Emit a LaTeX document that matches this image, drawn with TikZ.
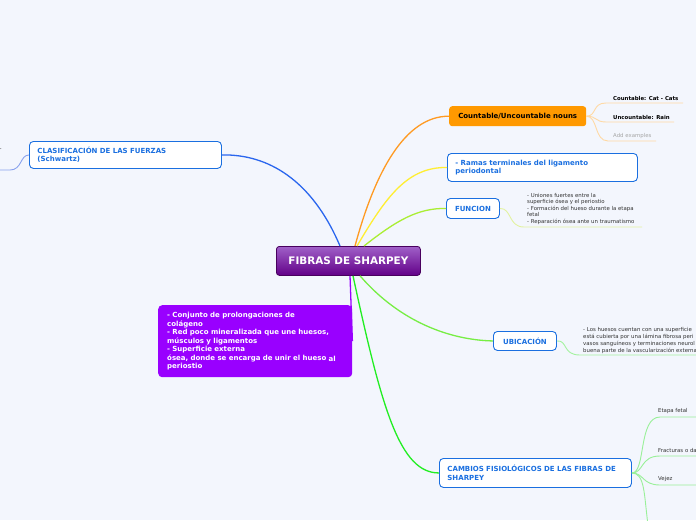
\documentclass[tikz,border=0pt]{standalone}
\usepackage{fontspec}
\setmainfont{DejaVu Sans}
\definecolor{bg}{HTML}{F3F6FD}
\definecolor{boxblue}{HTML}{1A6FE0}
\definecolor{ctop}{HTML}{A060C8}
\definecolor{cbot}{HTML}{620088}
\definecolor{cdark}{HTML}{48005E}
\definecolor{purp}{HTML}{9900FF}
\definecolor{orng}{HTML}{FF9900}
\definecolor{cblue}{HTML}{2A66EE}
\definecolor{corange}{HTML}{FF9A22}
\definecolor{cyellow}{HTML}{FFEE33}
\definecolor{cyg}{HTML}{AAEE33}
\definecolor{cgreen}{HTML}{77EE44}
\definecolor{cbright}{HTML}{22EE22}
\definecolor{lorange}{HTML}{FFD9A4}
\definecolor{lyg}{HTML}{E2F2A0}
\definecolor{lgreen}{HTML}{A4F2A0}
\definecolor{lbright}{HTML}{99F099}
\definecolor{lblue}{HTML}{8AA2EE}
\definecolor{leaftext}{HTML}{333333}
\begin{document}
\begin{tikzpicture}[x=1pt,y=-1pt,
  topic/.style={draw=boxblue, line width=0.9pt, fill=white, rounded corners=4pt,
    anchor=north west, inner xsep=8pt, inner ysep=0pt, align=left,
    font=\fontsize{7}{8.5}\selectfont\bfseries, text=boxblue},
  leaf/.style={anchor=west, inner sep=0pt, font=\fontsize{5.4}{6.5}\selectfont,
    text=leaftext, align=left},
  conn/.style={line width=1.3pt},
  sub/.style={line width=0.9pt}
]
\clip (0,0) rectangle (696,520);
\fill[bg] (0,0) rectangle (696,520);

% nodes
\node[anchor=north west, minimum width=144pt, minimum height=29pt, rounded corners=3pt,
  draw=cdark, line width=0.8pt, top color=ctop, bottom color=cbot, text=white,
  font=\fontsize{10.4}{12}\selectfont\bfseries] (main) at (276,246) {FIBRAS DE SHARPEY};

\node[topic, minimum width=192pt, minimum height=27pt, text width=176pt] (clas) at (29,141)
  {CLASIFICACIÓN DE LAS FUERZAS\\(Schwartz)};

\node[anchor=north west, minimum width=192pt, minimum height=72pt, text width=176pt,
  inner xsep=9pt, inner ysep=0pt, rounded corners=4pt, fill=purp, text=white, align=left,
  font=\fontsize{7}{8.5}\selectfont\bfseries] (purpbox) at (158,305)
  {- Conjunto de prolongaciones de\\colágeno\\- Red poco mineralizada que une huesos,\\músculos y ligamentos\\- Superficie externa\\ósea, donde se encarga de unir el hueso \raisebox{-1.5pt}{al}\\periostio};

\node[anchor=north west, minimum width=137pt, minimum height=20pt, inner sep=0pt,
  rounded corners=3pt, fill=orng, text=black,
  font=\fontsize{7}{8.5}\selectfont\bfseries] (cnt) at (449,106) {Countable/Uncountable nouns};

\node[topic, minimum width=190pt, minimum height=28pt, text width=174pt] (ramas) at (447,153)
  {- Ramas terminales del ligamento\\periodontal};

\node[topic, minimum width=53pt, minimum height=20pt, inner xsep=0pt, align=center] (func) at (446,198) {FUNCION};

\node[topic, minimum width=63pt, minimum height=19pt, inner xsep=0pt, align=center] (ubic) at (493,331) {UBICACIÓN};

\node[topic, minimum width=192pt, minimum height=29pt, text width=176pt] (camb) at (439,458)
  {CAMBIOS FISIOLÓGICOS DE LAS FIBRAS DE\\SHARPEY};

% main connectors
\draw[conn, cblue] ([xshift=64pt]main.north west) .. controls (312,180) and (268,154) .. (clas.east);
\draw[conn, corange] ([xshift=79pt]main.north west) .. controls (375,172) and (405,116) .. (cnt.west);
\draw[conn, cyellow] ([xshift=81pt]main.north west) .. controls (387,195) and (408,167) .. (ramas.west);
\draw[conn, cyg] ([xshift=88pt]main.north west) .. controls (397,220) and (418,208) .. (func.west);
\draw[conn, cgreen] ([xshift=84pt]main.south west) .. controls (400,322) and (450,340) .. (ubic.west);
\draw[conn, cbright] ([xshift=77pt]main.south west) .. controls (382,410) and (400,473) .. (camb.west);
\draw[conn, purp] ([xshift=74pt]main.south west) -- (purpbox.east);

% leaves
\coordinate (lc1) at (683,103);
\coordinate (lc2) at (674,122);
\coordinate (lc3) at (656,141);
\draw[sub, lorange] (cnt.east) .. controls (597,116) and (592,103) .. (606,103) -- (lc1);
\draw[sub, lorange] (cnt.east) .. controls (597,116) and (595,122) .. (606,122) -- (lc2);
\draw[sub, lorange] (cnt.east) .. controls (598,116) and (594,141) .. (608,141) -- (lc3);
\node[leaf, font=\fontsize{5.4}{6.5}\selectfont\bfseries, text=black] (l1) at (613,98) {Countable: Cat - Cats};
\node[leaf, font=\fontsize{5.4}{6.5}\selectfont\bfseries, text=black] (l2) at (613,117) {Uncountable: Rain};
\node[leaf, text=black!35] (l3) at (613,136) {Add examples};

\coordinate (lf) at (642,227);
\draw[sub, lyg] (func.east) .. controls (512,208) and (508,227) .. (524,227) -- (lf);
\node[leaf, anchor=north west] (lfun) at (527,193)
  {- Uniones fuertes entre la\\superficie ósea y el periostio\\- Formación del hueso durante la etapa\\fetal\\- Reparación ósea ante un traumatismo};

\coordinate (lu) at (700,355);
\draw[sub, lgreen] (ubic.east) .. controls (568,340) and (562,355) .. (580,355) -- (lu);
\node[leaf, anchor=north west, font=\fontsize{5.4}{7}\selectfont] (lub) at (583,327)
  {- Los huesos cuentan con una superficie\\está cubierta por una lámina fibrosa peri\\vasos sanguíneos y terminaciones neurol\\buena parte de la vascularización externa};

\coordinate (le1) at (700,417);
\coordinate (le2) at (700,456);
\coordinate (le3) at (700,485);
\coordinate (le4) at (648,525);
\draw[sub, lbright] (camb.east) .. controls (646,473) and (638,417) .. (660,417) -- (le1);
\draw[sub, lbright] (camb.east) .. controls (644,473) and (640,456) .. (660,456) -- (le2);
\draw[sub, lbright] (camb.east) .. controls (644,473) and (642,485) .. (660,485) -- (le3);
\draw[sub, lbright] (camb.east) .. controls (645,473) and (644,495) .. (le4);
\node[leaf] (e1) at (658,411) {Etapa fetal};
\node[leaf] (e2) at (658,450) {Fracturas o da};
\node[leaf] (e3) at (658,479) {Vejez};

\coordinate (lcl) at (-5,170);
\draw[sub, lblue] (clas.west) .. controls (20,155) and (22,170) .. (10,170) -- (lcl);
\node[leaf] (rr) at (-1,150) {r};
\end{tikzpicture}
\end{document}
